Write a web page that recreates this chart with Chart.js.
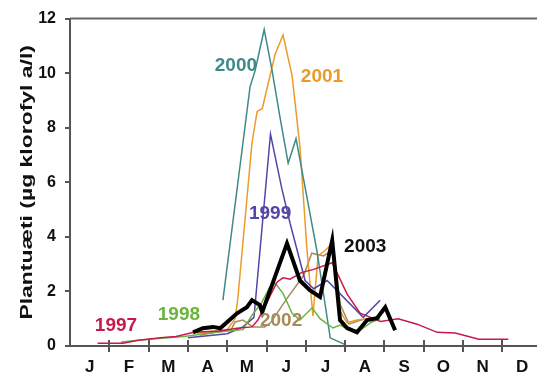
<!DOCTYPE html>
<html>
<head>
<meta charset="utf-8">
<script src="https://cdn.jsdelivr.net/npm/chart.js@4"></script>
<style>
  html, body { margin: 0; padding: 0; background: #fff; }
  canvas { display: block; }
</style>
</head>
<body>
<canvas id="chlChart" width="537" height="380"></canvas>
<script>
const monthLabels = ["J", "F", "M", "A", "M", "J", "J", "A", "S", "O", "N", "D"];
const yTicks = [0, 2, 4, 6, 8, 10, 12];
const yTitle = "Plantuæti (µg klorofyl a/l)";

// x = months since 1 Jan, y = chlorophyll a (µg/l)
const x1997 = [0.7, 1.35, 1.7, 2.3, 2.7, 3.15, 3.8, 4.25, 4.63, 4.78, 5.27, 5.42, 5.6, 5.9, 6.18, 6.67, 7.05, 7.38, 7.9, 8.35, 8.83, 9.34, 9.8, 10.4, 11.15];
const y1997 = [0.1, 0.1, 0.2, 0.3, 0.35, 0.5, 0.55, 0.65, 0.7, 0.95, 2.35, 2.5, 2.45, 2.7, 2.8, 3.05, 1.9, 1.2, 0.9, 1.0, 0.8, 0.5, 0.48, 0.25, 0.25];

const x1998 = [1.3, 2.0, 2.9, 3.7, 4.4, 4.63, 4.88, 5.08, 5.22, 5.42, 5.65, 5.85, 6.16, 6.36, 6.69, 6.87, 7.12, 7.38, 7.68, 7.89];
const y1998 = [0.15, 0.25, 0.35, 0.5, 0.6, 1.13, 1.6, 2.15, 2.3, 1.93, 1.2, 0.95, 1.4, 1.0, 0.66, 0.77, 0.58, 0.58, 0.88, 1.0];

const x1999 = [3.0, 4.0, 4.4, 4.68, 5.1, 5.39, 5.6, 5.98, 6.2, 6.54, 7.46, 7.89];
const y1999 = [0.3, 0.45, 0.7, 1.05, 7.77, 5.76, 4.49, 2.4, 2.1, 2.4, 1.05, 1.68];

const x2000 = [3.89, 4.4, 4.58, 4.71, 4.94, 5.14, 5.34, 5.55, 5.75, 6.28, 6.62, 7.0];
const y2000 = [1.68, 7.45, 9.5, 10.1, 11.6, 10.1, 8.4, 6.7, 7.6, 3.5, 0.3, 0.05];

const x2001 = [3.23, 4.0, 4.2, 4.27, 4.63, 4.76, 4.89, 5.22, 5.42, 5.65, 5.85, 6.03, 6.18, 6.31, 6.49, 6.67, 6.82, 7.05, 7.3, 7.56, 7.8];
const y2001 = [0.47, 0.6, 1.0, 1.75, 7.45, 8.6, 8.7, 10.7, 11.4, 9.9, 7.3, 3.5, 1.1, 3.3, 3.5, 3.75, 1.4, 0.85, 0.95, 1.0, 1.0];

const x2002 = [3.3, 4.1, 4.2, 4.4, 4.65, 4.95, 5.1, 5.5, 5.95, 6.15, 6.45, 6.7, 6.88, 7.1, 7.4, 7.8];
const y2002 = [0.4, 0.6, 0.88, 0.95, 0.7, 0.7, 0.85, 1.7, 2.6, 3.4, 3.3, 3.55, 1.5, 0.8, 0.95, 1.05];

const x2003 = [3.13, 3.38, 3.64, 3.82, 4.0, 4.25, 4.5, 4.63, 4.83, 4.89, 5.52, 5.85, 6.1, 6.36, 6.67, 6.87, 7.05, 7.3, 7.56, 7.81, 8.02, 8.27];
const y2003 = [0.5, 0.65, 0.7, 0.65, 0.88, 1.2, 1.42, 1.68, 1.5, 1.24, 3.76, 2.4, 2.05, 1.8, 3.87, 0.95, 0.66, 0.5, 0.95, 1.02, 1.42, 0.58];

const series = [
  { year: "1997", xs: x1997, ys: y1997, color: "#c8194b", width: 1.5 },
  { year: "1998", xs: x1998, ys: y1998, color: "#6ab43e", width: 1.5 },
  { year: "1999", xs: x1999, ys: y1999, color: "#5346a8", width: 1.5 },
  { year: "2000", xs: x2000, ys: y2000, color: "#3e8a88", width: 1.5 },
  { year: "2001", xs: x2001, ys: y2001, color: "#ec9a2a", width: 1.5 },
  { year: "2002", xs: x2002, ys: y2002, color: "#a88b5c", width: 1.5 },
  { year: "2003", xs: x2003, ys: y2003, color: "#000000", width: 4 },
];

// where the year names sit, in data units
const labelAt = {
  "1997": [1.17, 0.73],
  "1998": [2.77, 1.13],
  "1999": [5.09, 4.85],
  "2000": [4.22, 10.28],
  "2001": [6.41, 9.85],
  "2002": [5.37, 0.91],
  "2003": [7.51, 3.65],
};

const FONT = "'Liberation Sans', Arial, sans-serif";
Chart.defaults.font.family = FONT;
Chart.defaults.color = "#111";

const extras = {
  id: "extras",
  afterDraw(chart) {
    const { ctx, chartArea, scales: { x, y } } = chart;
    ctx.save();
    // top frame line
    ctx.strokeStyle = "#666";
    ctx.lineWidth = 2;
    ctx.beginPath();
    ctx.moveTo(chartArea.left, chartArea.top);
    ctx.lineTo(chartArea.right, chartArea.top);
    ctx.stroke();
    // month ticks crossing the axis
    ctx.strokeStyle = "#555";
    x.ticks.forEach((t) => {
      if (!Number.isInteger(t.value) || t.value === 0) return;
      const px = Math.round(x.getPixelForValue(t.value));
      ctx.beginPath();
      ctx.moveTo(px, chartArea.bottom - 6);
      ctx.lineTo(px, chartArea.bottom + 6);
      ctx.stroke();
    });
    // year names
    ctx.font = "bold 19px " + FONT;
    ctx.textAlign = "center";
    ctx.textBaseline = "middle";
    series.forEach((s) => {
      const [lx, ly] = labelAt[s.year];
      ctx.fillStyle = s.color === "#000000" ? "#111" : s.color;
      ctx.fillText(s.year, x.getPixelForValue(lx), y.getPixelForValue(ly));
    });
    // y axis title
    ctx.translate(27, (chartArea.top + chartArea.bottom) / 2);
    ctx.rotate(-Math.PI / 2);
    ctx.scale(1.35, 1);
    ctx.font = "bold 17px " + FONT;
    ctx.fillStyle = "#111";
    ctx.fillText(yTitle, 0, 0);
    ctx.restore();
  },
};

new Chart(document.getElementById("chlChart").getContext("2d"), {
  type: "line",
  data: {
    datasets: series.map((s) => ({
      label: s.year,
      data: s.xs.map((v, i) => ({ x: v, y: s.ys[i] })),
      borderColor: s.color,
      borderWidth: s.width,
      pointRadius: 0,
      tension: 0,
      fill: false,
      order: s.year === "2003" ? 0 : 1,
    })),
  },
  options: {
    responsive: false,
    animation: false,
    layout: { padding: { top: 17, right: 0, bottom: 0, left: 0 } },
    plugins: { legend: { display: false }, tooltip: { enabled: false } },
    scales: {
      x: {
        type: "linear",
        min: 0,
        max: 11.88,
        afterBuildTicks: (scale) => {
          const ticks = [];
          for (let m = 0; m < monthLabels.length; m++) {
            if (m > 0) ticks.push({ value: m });
            ticks.push({ value: m + 0.5 });
          }
          scale.ticks = ticks;
        },
        afterFit: (scale) => { scale.height = 34; },
        ticks: {
          autoSkip: false,
          maxRotation: 0,
          padding: 5,
          font: { size: 17, weight: "bold" },
          callback: (v) => (Number.isInteger(v) ? "" : monthLabels[Math.floor(v)]),
        },
        grid: { drawOnChartArea: false, tickLength: 6, color: "transparent" },
        border: { color: "#555", width: 2 },
      },
      y: {
        min: 0,
        max: 12,
        afterBuildTicks: (scale) => { scale.ticks = yTicks.map((v) => ({ value: v })); },
        afterFit: (scale) => { scale.width = 70; },
        ticks: { padding: 9, font: { size: 16, weight: "bold" } },
        grid: { drawOnChartArea: false, tickLength: 5, color: "#555", lineWidth: 2 },
        border: { color: "#555", width: 2 },
      },
    },
  },
  plugins: [extras],
});
</script>
</body>
</html>
